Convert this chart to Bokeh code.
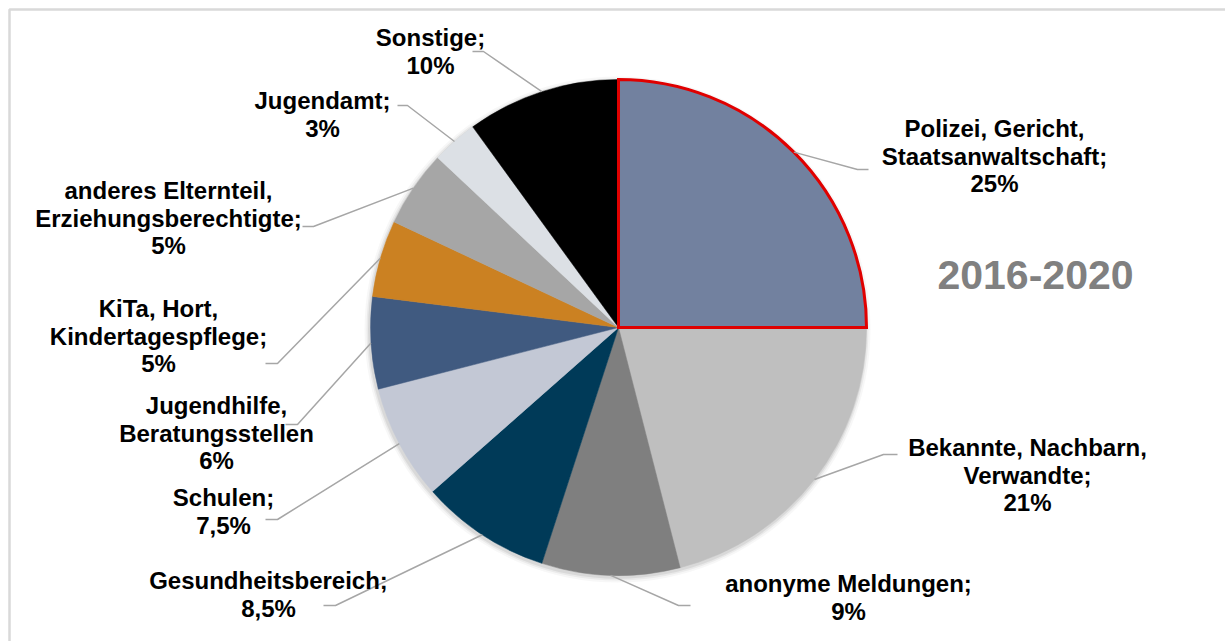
import math
from bokeh.plotting import figure
from bokeh.models import Range1d
from bokeh.core.properties import value
from bokeh.embed import file_html
from bokeh.resources import INLINE

# ---- data ----
categories = [
    "Polizei, Gericht,\nStaatsanwaltschaft;",
    "Bekannte, Nachbarn,\nVerwandte;",
    "anonyme Meldungen;",
    "Gesundheitsbereich;",
    "Schulen;",
    "Jugendhilfe,\nBeratungsstellen",
    "KiTa, Hort,\nKindertagespflege;",
    "anderes Elternteil,\nErziehungsberechtigte;",
    "Jugendamt;",
    "Sonstige;",
]
values = [25, 21, 9, 8.5, 7.5, 6, 5, 5, 3, 10]
value_labels = ["25%", "21%", "9%", "8,5%", "7,5%", "6%", "5%", "5%", "3%", "10%"]
title_text = "2016-2020"

# ---- styles / layout ----
colors = ["#72819F", "#BFBFBF", "#7F7F7F", "#003A58", "#C3C8D5",
          "#405A80", "#CB8122", "#A6A6A6", "#DCE0E5", "#000000"]
W, H = 1225, 641
CX, CY, R = 618, 327, 248          # pixel centre / radius
label_pos = [(994, 128), (1027, 447), (848, 583), (268, 580), (223, 497),
             (216, 405), (158, 308), (168, 190), (322, 100), (430, 37)]
leader_label_end = [(868, 169), (897, 454), (690, 605), (323, 605), (265, 519),
                    (285, 424), (265, 363), (302, 226), (397, 105), (472, 51)]
leader_elbow = [(857, 169), (883, 454), (678, 605), (335, 605), (277, 519),
                (297, 424), (277, 363), (313, 226), (407, 105), (483, 51)]
LINE_SP = 27.5
FONT = value("Liberation Sans")


def Y(py):
    return H - py


p = figure(width=W, height=H, x_range=Range1d(0, W), y_range=Range1d(0, H),
           min_border=0, toolbar_location=None, output_backend="svg",
           x_axis_location=None, y_axis_location=None)
p.grid.visible = False
p.outline_line_color = None
p.background_fill_color = "white"
p.border_fill_color = "white"

# chart frame (top/left visible)
p.line(x=[9, 9, W + 20], y=[Y(H + 20), Y(9), Y(9)], line_color="#D9D9D9", line_width=2.5)

# soft shadow
for dr, a in [(5, 0.03), (3, 0.05), (1.5, 0.07)]:
    p.circle(x=CX - 1, y=Y(CY + 2), radius=R + dr, fill_color="#000000",
             fill_alpha=a, line_color=None)

# wedges: clockwise from 12 o'clock
total = sum(values)
starts, ends, mids = [], [], []
cum = 0.0
for v in values:
    a0 = math.pi / 2 - 2 * math.pi * cum / total
    cum += v
    a1 = math.pi / 2 - 2 * math.pi * cum / total
    starts.append(a0)
    ends.append(a1)
    mids.append((a0 + a1) / 2)

order = list(range(1, len(values))) + [0]
for i in order:
    if i == 0:
        lc, lw = "#E00000", 3
    else:
        lc, lw = colors[i], 0.5
    p.wedge(x=CX, y=Y(CY), radius=R, start_angle=starts[i], end_angle=ends[i],
            direction="clock", fill_color=colors[i], line_color=lc, line_width=lw,
            line_join="miter")

# leader lines
for i in range(len(values)):
    px = CX + R * math.cos(mids[i])
    py = Y(CY) + R * math.sin(mids[i])
    ex, ey = leader_elbow[i]
    lx, ly = leader_label_end[i]
    p.line(x=[px, ex, lx], y=[py, Y(ey), Y(ly)], line_color="#A6A6A6", line_width=1.5)

# labels
tx, ty, tt = [], [], []
for i, cat in enumerate(categories):
    lines = cat.split("\n") + [value_labels[i]]
    x0, y0 = label_pos[i]
    for k, ln in enumerate(lines):
        tx.append(x0)
        ty.append(Y(y0 + k * LINE_SP))
        tt.append(ln)
p.text(x=tx, y=ty, text=tt, text_align="center", text_baseline="middle",
       text_font=FONT, text_font_style="bold", text_font_size="24px",
       text_color="#000000")

p.text(x=[1035], y=[Y(274)], text=[title_text], text_align="center",
       text_baseline="middle", text_font=FONT, text_font_style="bold",
       text_font_size="41px", text_color="#808080")

open("out.html", "w").write(file_html(p, INLINE))
